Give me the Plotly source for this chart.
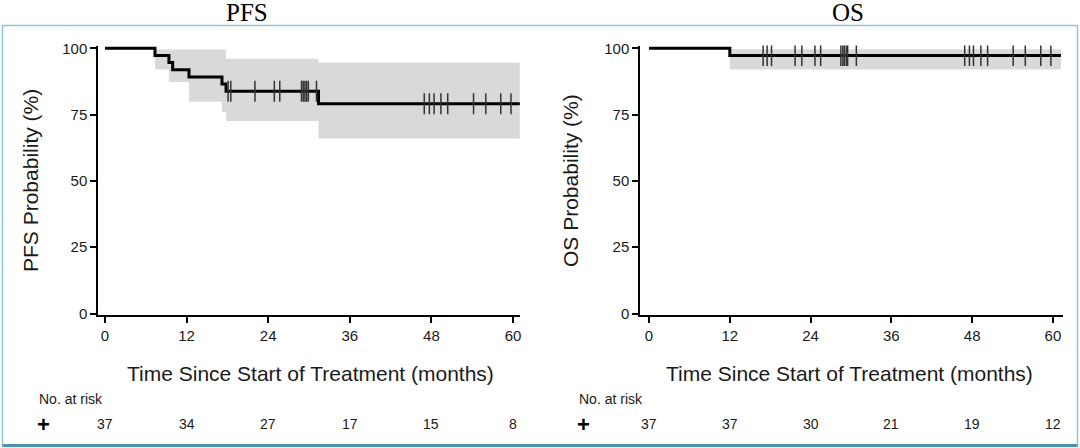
import plotly.graph_objects as go

# ---------------- data ----------------
months_ticks = [0, 12, 24, 36, 48, 60]
prob_ticks = [0, 25, 50, 75, 100]

# PFS Kaplan-Meier step curve
pfs_time = [0, 7.35, 9.4, 9.95, 12.35, 17.2, 17.8, 31.4, 61.0]
pfs_surv = [100, 97.3, 94.6, 91.9, 89.2, 86.5, 83.8, 79.1, 79.1]
# PFS confidence band
pfs_band_time = [7.35, 9.4, 12.35, 17.2, 17.8, 31.4, 61.0]
pfs_band_low = [92.0, 87.3, 79.8, 76.0, 72.6, 66.0, 66.0]
pfs_band_high = [99.5, 99.5, 99.5, 99.5, 96.0, 94.5, 94.5]
# PFS censor times
pfs_censor = [18.1, 18.5, 22.05, 24.9, 25.7, 28.9, 29.15, 29.4, 29.65, 29.9,
              31.1, 46.95, 47.7, 48.4, 49.4, 50.4, 54.2, 56.0, 58.2, 59.7]
pfs_at_risk = [37, 34, 27, 17, 15, 8]

# OS Kaplan-Meier step curve
os_time = [0, 12.0, 61.2]
os_surv = [100, 97.3, 97.3]
os_band_time = [12.0, 61.2]
os_band_low = [92.0, 92.0]
os_band_high = [99.6, 99.6]
os_censor = [16.95, 17.55, 18.2, 21.7, 22.7, 24.65, 25.5, 28.5, 28.8, 29.0,
             29.3, 29.5, 30.8, 46.9, 47.6, 48.2, 49.3, 50.3, 54.1, 55.9, 58.2, 59.7]
os_at_risk = [37, 37, 30, 21, 19, 12]

# ---------------- helpers ----------------
W, H = 1080, 448


def px(xp):
    return xp / W


def py(yp):
    return 1 - yp / H


def step_value(times, values, t):
    v = values[0]
    for ti, vi in zip(times, values):
        if ti <= t:
            v = vi
    return v


SANS = "Liberation Sans, Arial, sans-serif"
SERIF = "Liberation Serif, Times New Roman, serif"
BAND = "#d9d9d9"

fig = go.Figure()


def add_panel(xa, ya, t, s, bt, bl, bh, cens):
    fig.add_trace(go.Scatter(x=bt, y=bl, mode="lines", line=dict(width=0, shape="hv"),
                             xaxis=xa, yaxis=ya, showlegend=False, hoverinfo="skip"))
    fig.add_trace(go.Scatter(x=bt, y=bh, mode="lines", line=dict(width=0, shape="hv"),
                             fill="tonexty", fillcolor=BAND,
                             xaxis=xa, yaxis=ya, showlegend=False, hoverinfo="skip"))
    fig.add_trace(go.Scatter(x=t, y=s, mode="lines", line=dict(color="black", width=3, shape="hv"),
                             xaxis=xa, yaxis=ya, showlegend=False))
    fig.add_trace(go.Scatter(x=cens, y=[step_value(t, s, c) for c in cens], mode="markers",
                             marker=dict(symbol="line-ns-open", size=15, color="#333333",
                                         line=dict(color="#333333", width=1.5)),
                             xaxis=xa, yaxis=ya, showlegend=False))


add_panel("x", "y", pfs_time, pfs_surv, pfs_band_time, pfs_band_low, pfs_band_high, pfs_censor)
add_panel("x2", "y2", os_time, os_surv, os_band_time, os_band_low, os_band_high, os_censor)

y_dom = [py(315.4), py(45.6)]
axis_common = dict(showline=True, linecolor="black", linewidth=1.5, ticks="outside",
                   ticklen=6, tickwidth=1.5, tickcolor="black", showgrid=False,
                   zeroline=False, tickfont=dict(family=SANS, size=15, color="#1a1a1a"))

fig.update_layout(
    width=W, height=H, margin=dict(l=0, r=0, t=0, b=0, autoexpand=False),
    paper_bgcolor="white", plot_bgcolor="white",
    xaxis=dict(domain=[px(98), px(520)], range=[-1.03, 61.03], tickvals=months_ticks,
               anchor="y", **axis_common),
    yaxis=dict(domain=y_dom, range=[-0.7, 101], tickvals=prob_ticks, anchor="x", **axis_common),
    xaxis2=dict(domain=[px(640), px(1063)], range=[-1.34, 61.5], tickvals=months_ticks,
                anchor="y2", **axis_common),
    yaxis2=dict(domain=y_dom, range=[-0.7, 101], tickvals=prob_ticks, anchor="x2", **axis_common),
)


def note(text, x, y, size, family=SANS, xref="paper", xanchor="center", angle=0, color="#1a1a1a"):
    return dict(text=text, x=x, y=y, xref=xref, yref="paper", showarrow=False,
                xanchor=xanchor, yanchor="middle", textangle=angle,
                font=dict(family=family, size=size, color=color))


ann = []
ann.append(note("PFS", px(247), py(13), 25, family=SERIF, color="black"))
ann.append(note("OS", px(848), py(13), 25, family=SERIF, color="black"))
ann.append(note("Time Since Start of Treatment (months)", px(310), py(373), 21))
ann.append(note("Time Since Start of Treatment (months)", px(849), py(373), 21))
ann.append(note("PFS Probability (%)", px(30), py(181), 21, angle=-90))
ann.append(note("OS Probability (%)", px(570), py(181), 21, angle=-90))

for xref, xleft, plus_x, risk in [("x", 37, 43, pfs_at_risk), ("x2", 577, 583, os_at_risk)]:
    ann.append(note("No. at risk", px(xleft), py(399), 14, xanchor="left"))
    ann.append(note("<b>+</b>", px(plus_x), py(424), 22, color="black"))
    for m, n in zip(months_ticks, risk):
        ann.append(note(str(n), m, py(424), 14, xref=xref))
fig.update_layout(annotations=ann)

# outer frame
fig.add_shape(type="rect", xref="paper", yref="paper", x0=px(2.5), x1=px(1077.5),
              y0=py(445.5), y1=py(25.5), line=dict(color="#8fc6d6", width=1.5))
fig.add_shape(type="line", xref="paper", yref="paper", x0=px(2.5), x1=px(1077.5),
              y0=py(445.5), y1=py(445.5), line=dict(color="#4a8fb0", width=3))

fig.write_html(
    "out.html",
    config={"displayModeBar": False},
    post_script="document.body.style.margin='0';document.body.style.overflow='hidden';",
)
